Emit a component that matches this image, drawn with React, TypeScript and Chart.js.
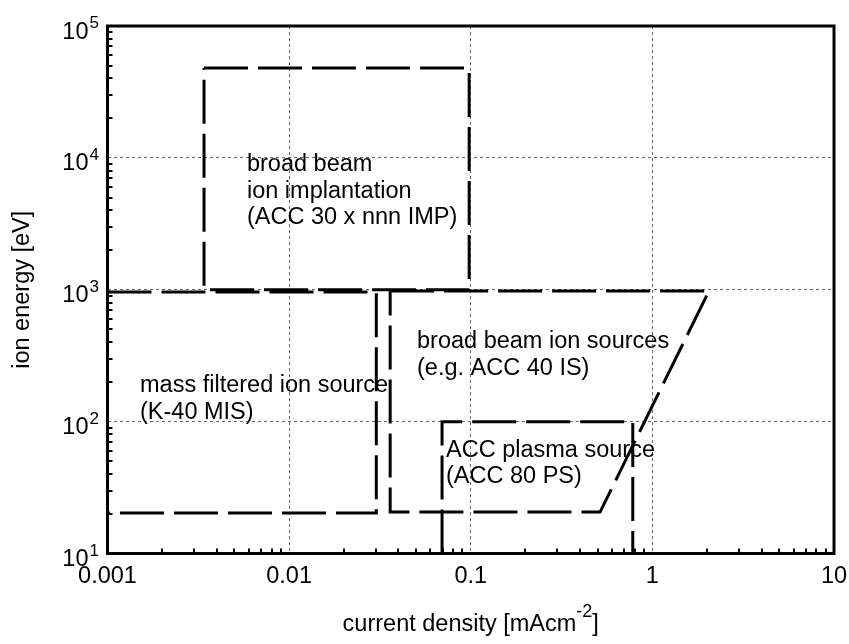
import React, { useEffect, useRef } from "react";
import { Chart, registerables } from "chart.js";

Chart.register(...registerables);

// ---- data ----
const xTickValues = [0.001, 0.01, 0.1, 1, 10];
const xTickLabels = ["0.001", "0.01", "0.1", "1", "10"];
const yTickValues = [10, 100, 1000, 10000, 100000];
const yTickExponents = ["1", "2", "3", "4", "5"];

// broad beam ion implantation region
const implantX = [0.0034, 0.098, 0.098, 0.0034, 0.0034];
const implantY = [48000, 48000, 1000, 1000, 48000];
// mass filtered ion source region
const massX = [0.001, 0.0302, 0.0302, 0.001];
const massY = [960, 960, 20.3, 20.3];
// broad beam ion sources region
const broadX = [0.036, 2.05, 0.515, 0.036, 0.036];
const broadY = [980, 980, 20.6, 20.6, 980];
// ACC plasma source region
const plasmaX = [0.0695, 0.0695, 0.78, 0.78];
const plasmaY = [10, 100, 100, 10];

// region labels: lines and data-space anchor (left, first baseline)
const implantLabel = ["broad beam", "ion implantation", "(ACC 30 x nnn IMP)"];
const implantAnchor = [0.00586, 7950];
const broadLabel = ["broad beam ion sources", "(e.g. ACC 40 IS)"];
const broadAnchor = [0.0506, 361];
const massLabel = ["mass filtered ion source", "(K-40 MIS)"];
const massAnchor = [0.00151, 167];
const plasmaLabel = ["ACC plasma source", "(ACC 80 PS)"];
const plasmaAnchor = [0.0731, 54];

const xTitleMain = "current density [mAcm";
const xTitleSup = "-2";
const xTitleEnd = "]";
const yTitle = "ion energy [eV]";

const FONT = "'Liberation Sans', Arial, Helvetica, sans-serif";

const toPoints = (xs: number[], ys: number[]) => xs.map((v, i) => ({ x: v, y: ys[i] }));

const lineDs = (xs: number[], ys: number[]) => ({
  data: toPoints(xs, ys),
  showLine: true,
  borderColor: "#000",
  borderWidth: 3,
  borderDash: [44, 10],
  borderCapStyle: "butt" as const,
  pointRadius: 0,
  pointHoverRadius: 0,
  fill: false,
  tension: 0,
});

const decorPlugin = {
  id: "decor",
  afterDatasetsDraw(chart: any) {
    const { ctx, chartArea: a, scales } = chart;
    const x = scales.x;
    const y = scales.y;
    ctx.save();
    ctx.setLineDash([]);
    // minor ticks (inward), bottom and left
    ctx.strokeStyle = "#000";
    ctx.lineWidth = 2;
    ctx.beginPath();
    for (let d = 0; d < xTickValues.length - 1; d++) {
      for (let k = 2; k <= 9; k++) {
        const px = Math.round(x.getPixelForValue(xTickValues[d] * k));
        ctx.moveTo(px, a.bottom);
        ctx.lineTo(px, a.bottom - 5);
      }
    }
    for (let d = 0; d < yTickValues.length - 1; d++) {
      for (let k = 2; k <= 9; k++) {
        const py = Math.round(y.getPixelForValue(yTickValues[d] * k));
        ctx.moveTo(a.left, py);
        ctx.lineTo(a.left + 5, py);
      }
    }
    ctx.stroke();
    // frame
    ctx.lineWidth = 3;
    ctx.strokeRect(a.left, a.top, a.right - a.left, a.bottom - a.top);

    ctx.fillStyle = "#000";
    // y tick labels 10^n
    yTickValues.forEach((v, i) => {
      const py = y.getPixelForValue(v);
      ctx.font = `23.5px ${FONT}`;
      ctx.textAlign = "right";
      ctx.textBaseline = "alphabetic";
      ctx.fillText("10", a.left - 19, py + 12.5);
      ctx.font = `17px ${FONT}`;
      ctx.textAlign = "left";
      ctx.fillText(yTickExponents[i], a.left - 18, py + 2);
    });

    // region labels
    ctx.font = `23.5px ${FONT}`;
    ctx.textAlign = "left";
    ctx.textBaseline = "alphabetic";
    const drawLabel = (lines: string[], anchor: number[]) => {
      const px = x.getPixelForValue(anchor[0]);
      const py = y.getPixelForValue(anchor[1]);
      lines.forEach((t, i) => ctx.fillText(t, px, py + i * 26.5));
    };
    drawLabel(implantLabel, implantAnchor);
    drawLabel(broadLabel, broadAnchor);
    drawLabel(massLabel, massAnchor);
    drawLabel(plasmaLabel, plasmaAnchor);

    // x title with superscript
    const mainFont = `23.5px ${FONT}`;
    const supFont = `18px ${FONT}`;
    ctx.font = mainFont;
    const w1 = ctx.measureText(xTitleMain).width;
    const w3 = ctx.measureText(xTitleEnd).width;
    ctx.font = supFont;
    const w2 = ctx.measureText(xTitleSup).width;
    const total = w1 + w2 + w3;
    const cx = (a.left + a.right) / 2;
    const baseY = a.bottom + 77;
    let sx = cx - total / 2;
    ctx.textAlign = "left";
    ctx.font = mainFont;
    ctx.fillText(xTitleMain, sx, baseY);
    sx += w1;
    ctx.font = supFont;
    ctx.fillText(xTitleSup, sx, baseY - 14);
    sx += w2;
    ctx.font = mainFont;
    ctx.fillText(xTitleEnd, sx, baseY);

    // y title rotated
    ctx.save();
    ctx.translate(29, (a.top + a.bottom) / 2);
    ctx.rotate(-Math.PI / 2);
    ctx.font = mainFont;
    ctx.textAlign = "center";
    ctx.textBaseline = "alphabetic";
    ctx.fillText(yTitle, 0, 0);
    ctx.restore();

    ctx.restore();
  },
};

export default function App() {
  const ref = useRef<HTMLCanvasElement>(null);
  useEffect(() => {
    if (!ref.current) return;
    const chart = new Chart(ref.current, {
      type: "scatter",
      data: {
        datasets: [
          lineDs(implantX, implantY),
          lineDs(massX, massY),
          lineDs(broadX, broadY),
          lineDs(plasmaX, plasmaY),
        ] as any,
      },
      options: {
        responsive: false,
        animation: false,
        events: [],
        layout: { padding: { left: 107.5, right: 15, top: 26, bottom: 30.5 } },
        plugins: { legend: { display: false }, tooltip: { enabled: false } },
        scales: {
          x: {
            type: "logarithmic",
            min: 0.001,
            max: 10,
            afterBuildTicks: (s: any) => {
              s.ticks = xTickValues.map((v) => ({ value: v }));
            },
            afterFit: (s: any) => {
              s.height = 60;
              s.paddingLeft = 0;
              s.paddingRight = 0;
            },
            ticks: {
              autoSkip: false,
              maxRotation: 0,
              minRotation: 0,
              padding: 9,
              color: "#000",
              font: { family: FONT, size: 23.5 },
              callback: (_v: any, i: number) => xTickLabels[i],
            },
            grid: { color: "#666", lineWidth: 1, drawTicks: false },
            border: { display: false, dash: [3, 3] },
          },
          y: {
            type: "logarithmic",
            min: 10,
            max: 100000,
            afterBuildTicks: (s: any) => {
              s.ticks = yTickValues.map((v) => ({ value: v }));
            },
            afterFit: (s: any) => {
              s.width = 0;
              s.paddingTop = 0;
              s.paddingBottom = 0;
            },
            ticks: { display: false },
            grid: { color: "#666", lineWidth: 1, drawTicks: false },
            border: { display: false, dash: [3, 3] },
          },
        },
      },
      plugins: [decorPlugin],
    });
    return () => chart.destroy();
  }, []);
  return (
    <div style={{ position: "fixed", left: 0, top: 0, width: 849, height: 644, background: "#fff" }}>
      <canvas ref={ref} width={849} height={644} style={{ display: "block", width: 849, height: 644 }} />
    </div>
  );
}
